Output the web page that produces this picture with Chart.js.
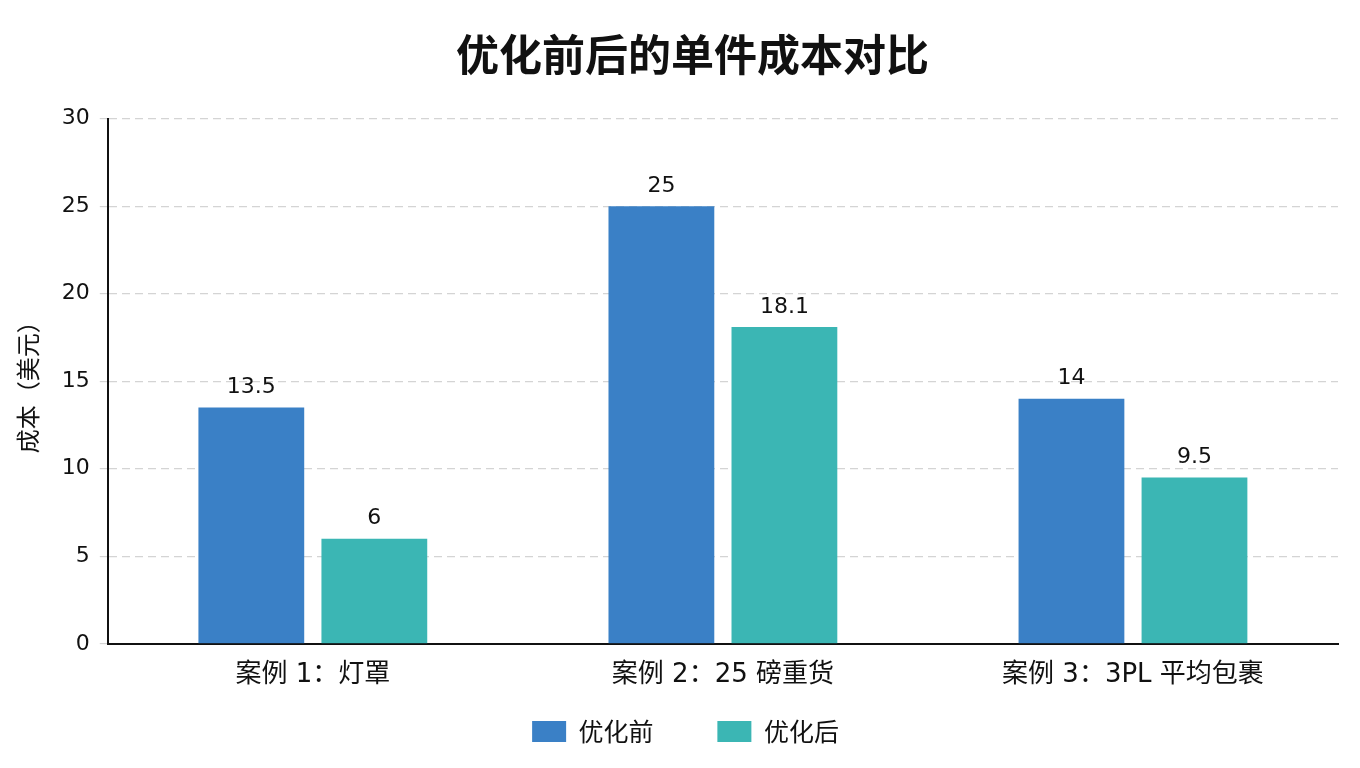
<!DOCTYPE html>
<html>
<head>
<meta charset="utf-8">
<script src="https://cdn.jsdelivr.net/npm/chart.js@4"></script>
<style>
html,body{margin:0;padding:0;background:#fff;}
#wrap{width:1360px;height:768px;}
</style>
</head>
<body>
<div id="wrap"><canvas id="c" width="1360" height="768"></canvas></div>
<script>
const categories = ["案例 1：灯罩", "案例 2：25 磅重货", "案例 3：3PL 平均包裹"];
const seriesNames = ["优化前", "优化后"];
const beforeValues = [13.5, 25, 14];
const afterValues = [6, 18.1, 9.5];
const yTicks = [0, 5, 10, 15, 20, 25, 30];

const FONT = "'DejaVu Sans', 'Noto Sans CJK SC', sans-serif";
const CJK = "'Noto Sans CJK SC', 'DejaVu Sans', sans-serif";

const valueLabels = {
  id: 'valueLabels',
  afterDatasetsDraw(chart) {
    const ctx = chart.ctx;
    ctx.save();
    ctx.font = "22px " + FONT;
    ctx.fillStyle = '#111';
    ctx.textAlign = 'center';
    ctx.textBaseline = 'bottom';
    chart.data.datasets.forEach((ds, di) => {
      const meta = chart.getDatasetMeta(di);
      meta.data.forEach((el, i) => {
        ctx.fillText(String(ds.data[i]), el.x, el.y - 9);
      });
    });
    ctx.restore();
  }
};

// nudge the title and legend blocks slightly right, as in the reference
const blockShift = {
  id: 'blockShift',
  afterLayout(chart) {
    const t = chart.titleBlock;
    if (t) { t.left += 19; t.right += 19; }
    const l = chart.legend;
    if (l) { l.left += 12; l.right += 12; }
  }
};

new Chart(document.getElementById('c'), {
  type: 'bar',
  data: {
    labels: categories,
    datasets: [
      { label: seriesNames[0], data: beforeValues, backgroundColor: '#3a80c6', categoryPercentage: 0.6, barPercentage: 0.86 },
      { label: seriesNames[1], data: afterValues, backgroundColor: '#3bb6b4', categoryPercentage: 0.6, barPercentage: 0.86 }
    ]
  },
  options: {
    responsive: false,
    animation: false,
    devicePixelRatio: 1,
    layout: { padding: { left: 9, right: 22, top: 20, bottom: 14 } },
    plugins: {
      title: {
        display: true,
        text: '优化前后的单件成本对比',
        font: { family: CJK, size: 43, weight: 'bold' },
        color: '#111',
        padding: { top: 9, bottom: 38 }
      },
      legend: {
        position: 'bottom',
        labels: {
          boxWidth: 34,
          boxHeight: 21,
          font: { family: CJK, size: 25 },
          color: '#111',
          padding: 20,
          generateLabels(chart) {
            const items = Chart.defaults.plugins.legend.labels.generateLabels(chart);
            items.forEach((it, i) => { if (i < items.length - 1) it.text = it.text + '\u3000\u2002\u2005'; });
            return items;
          }
        }
      },
      tooltip: { enabled: false }
    },
    scales: {
      x: {
        grid: { display: false },
        border: { display: true, color: '#111', width: 2 },
        ticks: { font: { family: FONT, size: 26 }, color: '#111', padding: 8 }
      },
      y: {
        min: 0,
        max: 30,
        afterBuildTicks(axis) { axis.ticks = yTicks.map(v => ({ value: v })); },
        title: { display: true, text: '成本（美元）', font: { family: CJK, size: 24 }, color: '#111', padding: { top: 4, bottom: 10 } },
        grid: { color: '#d4d4d4', lineWidth: 1.2, tickLength: 8 },
        border: { display: true, color: '#111', width: 2, dash: [8, 5] },
        ticks: { font: { family: FONT, size: 22 }, color: '#111', padding: 10 }
      }
    }
  },
  plugins: [valueLabels, blockShift]
});
</script>
</body>
</html>
